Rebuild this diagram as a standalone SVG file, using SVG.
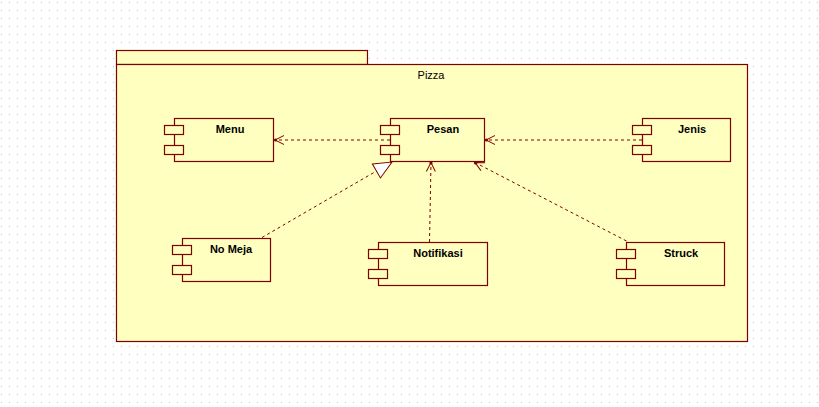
<svg xmlns="http://www.w3.org/2000/svg" width="819" height="407" viewBox="0 0 819 407">
<style>
.pkg{fill:#ffffc0;stroke:#800000;stroke-width:1.2}
.comp{fill:#ffffc0;stroke:#800000;stroke-width:1.2}
.lbl{font-family:"Liberation Sans",Arial,sans-serif;font-size:11px;font-weight:bold;fill:#000;text-anchor:middle}
.pl{font-family:"Liberation Sans",Arial,sans-serif;font-size:11px;fill:#000;text-anchor:middle}
.dep{fill:none;stroke:#800000;stroke-width:1;stroke-dasharray:3,3}
</style>
<defs>
<pattern id="grid" x="1" y="2" width="8" height="8" patternUnits="userSpaceOnUse">
<rect x="0" y="0" width="1" height="1" fill="#c4c4c4"/>
</pattern>
<marker id="open" markerUnits="userSpaceOnUse" markerWidth="14" markerHeight="14" viewBox="-12 -7 14 14" refX="0" refY="0" orient="auto">
<path d="M-9,-4.5 L0,0 L-9,4.5" fill="none" stroke="#800000" stroke-width="1"/>
<circle cx="-0.5" cy="0" r="1.6" fill="#800000"/>
</marker>
<marker id="tri" markerUnits="userSpaceOnUse" markerWidth="22" markerHeight="20" viewBox="-20 -10 22 20" refX="0" refY="0" orient="auto">
<path d="M-18,-8 L0,0 L-18,8 Z" fill="#ffffff" stroke="#800000" stroke-width="1"/>
</marker>
</defs>
<rect width="819" height="407" fill="#ffffff"/>
<rect width="819" height="407" fill="url(#grid)"/>
<g id="package-pizza">
<rect class="pkg" x="116.5" y="50.5" width="251" height="14"/>
<rect class="pkg" x="116.5" y="64.5" width="631" height="277"/>
<text class="pl" x="431" y="79">Pizza</text>
</g>
<g id="connectors">
<line class="dep" x1="390" y1="140" x2="275" y2="140" marker-end="url(#open)"/>
<line class="dep" x1="642" y1="140" x2="486" y2="140" marker-end="url(#open)"/>
<line class="dep" x1="262" y1="237.5" x2="392" y2="162" marker-end="url(#tri)"/>
<line class="dep" x1="429.5" y1="242" x2="431" y2="162.5" marker-end="url(#open)"/>
<line class="dep" x1="626.5" y1="241" x2="475" y2="162.5" marker-end="url(#open)"/>
</g>
<g id="menu">
<rect class="comp" x="174.5" y="118.5" width="99" height="43"/>
<rect class="comp" x="164.5" y="125.5" width="19" height="9"/>
<rect class="comp" x="164.5" y="145.5" width="19" height="9"/>
<text class="lbl" x="230" y="133">Menu</text>
</g>
<g id="pesan">
<rect class="comp" x="390.5" y="118.5" width="94" height="43"/>
<rect class="comp" x="380.5" y="125.5" width="19" height="9"/>
<rect class="comp" x="380.5" y="145.5" width="19" height="9"/>
<text class="lbl" x="443" y="133">Pesan</text>
</g>
<g id="jenis">
<rect class="comp" x="642.5" y="118.5" width="88" height="43"/>
<rect class="comp" x="632.5" y="125.5" width="19" height="9"/>
<rect class="comp" x="632.5" y="145.5" width="19" height="9"/>
<text class="lbl" x="692" y="133">Jenis</text>
</g>
<g id="nomeja">
<rect class="comp" x="182.5" y="238.5" width="88" height="43"/>
<rect class="comp" x="172.5" y="245.5" width="19" height="9"/>
<rect class="comp" x="172.5" y="265.5" width="19" height="9"/>
<text class="lbl" x="231" y="253">No Meja</text>
</g>
<g id="notifikasi">
<rect class="comp" x="378.5" y="242.5" width="109" height="43"/>
<rect class="comp" x="368.5" y="249.5" width="19" height="9"/>
<rect class="comp" x="368.5" y="269.5" width="19" height="9"/>
<text class="lbl" x="438" y="257">Notifikasi</text>
</g>
<g id="struck">
<rect class="comp" x="626.5" y="242.5" width="98" height="43"/>
<rect class="comp" x="616.5" y="249.5" width="19" height="9"/>
<rect class="comp" x="616.5" y="269.5" width="19" height="9"/>
<text class="lbl" x="681" y="257">Struck</text>
</g>
</svg>
